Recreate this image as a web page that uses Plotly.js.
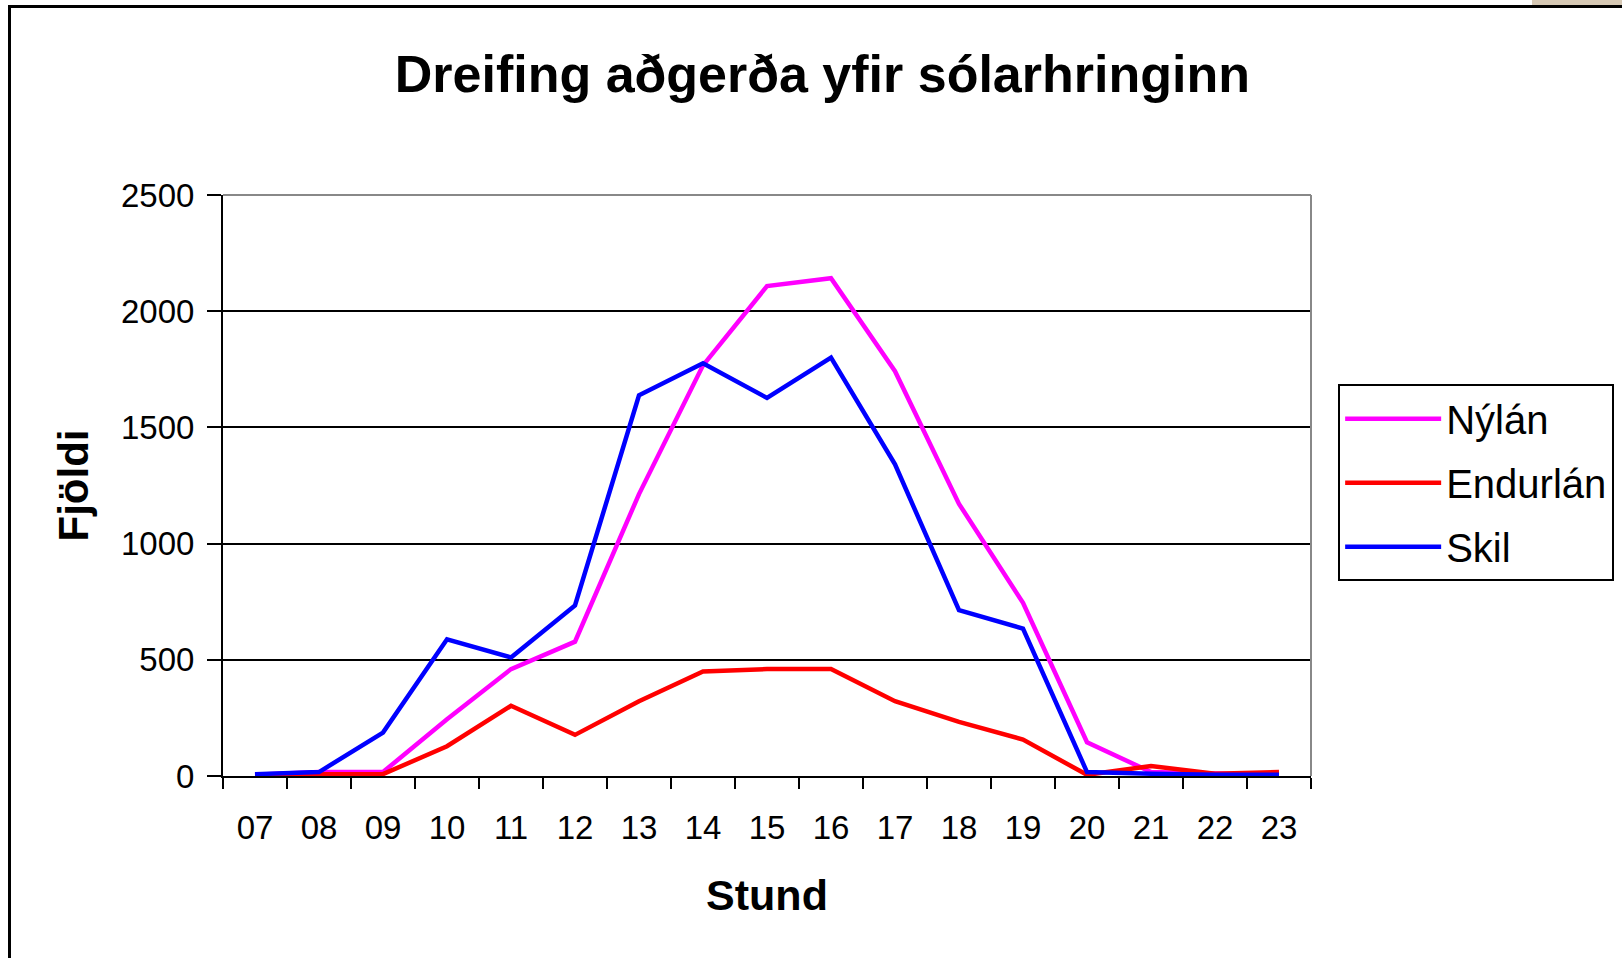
<!DOCTYPE html>
<html>
<head>
<meta charset="utf-8">
<script src="https://cdn.plot.ly/plotly-3.0.1.min.js"></script>
<style>
  body { margin: 0; background: #fff; }
  #chart { width: 1622px; height: 958px; }
  #frame { position: absolute; left: 8px; top: 5px; width: 1640px; height: 1000px;
           border-left: 3px solid #000; border-top: 3px solid #000; pointer-events: none; }
  #corner { position: absolute; left: 1532px; top: 0; width: 90px; height: 5px; background: #d6c8b4; }
</style>
</head>
<body>
<div id="chart"></div>
<div id="frame"></div>
<div id="corner"></div>
<script>
var hours = ['07','08','09','10','11','12','13','14','15','16','17','18','19','20','21','22','23'];

var nylan    = [5, 17, 17, 244, 460, 578, 1213, 1767, 2108, 2142, 1742, 1171, 745, 145, 17, 10, 5];
var endurlan = [2, 8, 8, 128, 302, 177, 322, 450, 460, 460, 322, 233, 157, 5, 43, 10, 17];
var skil     = [8, 17, 187, 588, 510, 734, 1638, 1776, 1627, 1800, 1341, 714, 634, 17, 10, 5, 5];

var fnt = 'Liberation Sans, Arial, sans-serif';

// one legend group per series so tracegroupgap can space the legend rows
var traces = [
  {x: hours, y: nylan, name: 'Nýlán', legendgroup: 'a', type: 'scatter', mode: 'lines',
   line: {color: '#ff00ff', width: 4.5}},
  {x: hours, y: endurlan, name: 'Endurlán', legendgroup: 'b', type: 'scatter', mode: 'lines',
   line: {color: '#ff0000', width: 4.5}},
  {x: hours, y: skil, name: 'Skil', legendgroup: 'c', type: 'scatter', mode: 'lines',
   line: {color: '#0000ff', width: 4.5}}
];

var layout = {
  width: 1622, height: 958,
  margin: {l: 223, r: 311, t: 195, b: 182},
  paper_bgcolor: '#fff', plot_bgcolor: '#fff',
  font: {family: fnt, color: '#000', size: 33},
  title: {text: '<b>Dreifing aðgerða yfir sólarhringinn</b>', font: {size: 52, family: fnt},
          x: 0.507, xanchor: 'center', y: 0.923, yanchor: 'middle'},
  xaxis: {
    type: 'category', range: [-0.5, 16.5], tickson: 'boundaries',
    ticks: 'outside', ticklen: 11, tickwidth: 2, tickcolor: '#000',
    showline: true, linecolor: '#000', linewidth: 2, showgrid: false, zeroline: false,
    ticklabelstandoff: 21,
    title: {text: '<b>Stund</b>', font: {size: 43}, standoff: 35}
  },
  yaxis: {
    range: [0, 2500], dtick: 500, ticks: 'outside', ticklen: 14, tickwidth: 2, tickcolor: '#000',
    showline: true, linecolor: '#000', linewidth: 2, showgrid: true, gridcolor: '#000', gridwidth: 2,
    zeroline: false, ticklabelstandoff: 6,
    title: {text: '<b>Fjöldi</b>', font: {size: 42}, standoff: 19}
  },
  legend: {
    xref: 'container', yref: 'container',
    x: 0.825, xanchor: 'left', y: 0.496, yanchor: 'middle',
    bordercolor: '#000', borderwidth: 2, bgcolor: '#fff',
    font: {size: 40, family: fnt},
    itemwidth: 96, tracegroupgap: 9
  },
  shapes: [
    {type: 'line', xref: 'paper', yref: 'paper', x0: 0, x1: 1, y0: 1, y1: 1, line: {color: '#888', width: 2}},
    {type: 'line', xref: 'paper', yref: 'paper', x0: 1, x1: 1, y0: 0, y1: 1, line: {color: '#888', width: 2}}
  ],
  showlegend: true
};

Plotly.newPlot('chart', traces, layout, {displayModeBar: false, staticPlot: true});
</script>
</body>
</html>
